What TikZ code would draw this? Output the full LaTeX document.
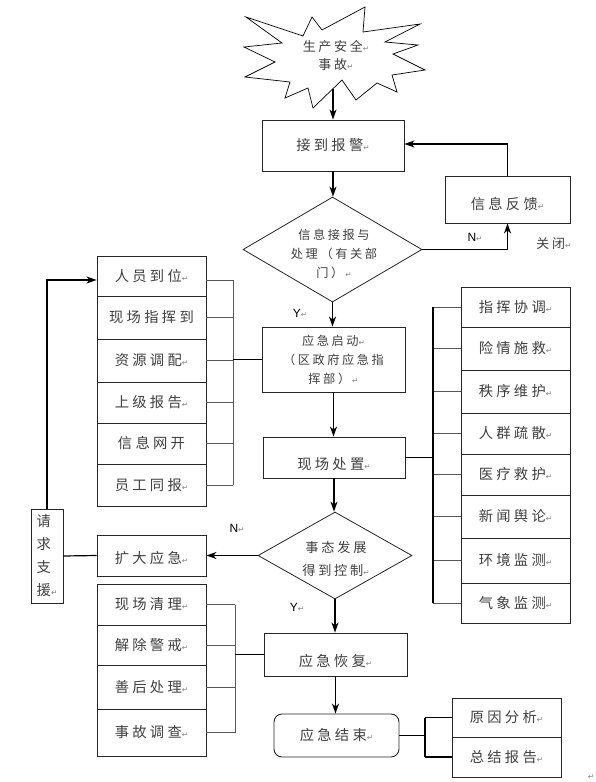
\documentclass[tikz,border=0pt]{standalone}
\usepackage{fontspec}
\usetikzlibrary{shapes.geometric,arrows.meta}
\newfontfamily\cjk[LetterSpace=23]{Noto Sans CJK SC}
\newfontfamily\cjks[LetterSpace=21]{Noto Sans CJK SC}
\newfontfamily\symf{DejaVu Sans}
\newfontfamily\lat{Liberation Sans}
\newcommand\rt{{\symf\fontsize{7.5}{8}\selectfont\textcolor{black!50}{↵}}}
\newcommand\bigtxt{\cjk\fontsize{14.3}{18}\selectfont}
\newcommand\smalltxt{\cjks\fontsize{12.2}{19}\selectfont}
\newcommand\midtxt{\cjks\fontsize{13.2}{23}\selectfont}
\newcommand\startxt{\cjks\fontsize{13}{18}\selectfont}
\newcommand\reqtxt{\cjk\fontsize{14.3}{23}\selectfont}
\newcommand\labtxt{\lat\fontsize{12}{12}\selectfont}
\begin{document}
\begin{tikzpicture}[x=1pt,y=-1pt,
  box/.style={draw=black!85, line width=0.9pt, inner sep=0pt, text=black!75, align=center, font=\bigtxt},
  dia/.style={draw=black!85, line width=0.8pt, diamond, inner sep=0pt},
  txt/.style={inner sep=0pt, text=black!75, align=center, font=\bigtxt},
  lab/.style={inner sep=0pt, text=black, font=\labtxt},
  arr/.style={draw=black, line width=1.2pt, -{Stealth[length=10pt,width=7pt,inset=3pt]}},
  main/.style={draw=black, line width=1.2pt},
  br/.style={draw=black!65, line width=1pt},
  sbox/.style={box, minimum width=109}
]
\useasboundingbox[fill=white] (0,0) rectangle (596,782);

% star
\draw[line width=0.7pt, draw=black] (246,17) -- (303,36) -- (312,17) -- (322,30) -- (365,7) -- (363,32) -- (420,24) -- (385,42) -- (418,45) -- (393,54) -- (425,70) -- (392,75) -- (397,92) -- (377,83) -- (356,100) -- (342,80) -- (313,108) -- (308,88) -- (285,98) -- (290,82) -- (245,77) -- (275,62) -- (244,47) -- (282,43) -- cycle;
\node[txt, font=\startxt] (star) at (336,56) {生产安全\rt\\事故\rt};
\coordinate (starbot) at (333,89);

% main chain
\node[box, minimum width=142, minimum height=51] (alarm) at (333,145.5) {接到报警\rt};
\node[box, minimum width=125, minimum height=47, label={[txt,yshift=-5pt]center:信息反馈\rt}] (feedback) at (507.5,199.5) {};
\node[dia, minimum width=179, minimum height=105] (d1) at (332.5,249.5) {};
\node[txt, font=\smalltxt] (d1t) at (334,254) {信息接报与\\处理（有关部\\门）\,\rt};
\node[box, minimum width=143, minimum height=65, font=\smalltxt] (start) at (333.5,359.5) {应急启动\rt\\（区政府应急指\\挥部）\,\rt};
\node[box, minimum width=142, minimum height=41, label={[txt,yshift=-7pt]center:现场处置\rt}] (scene) at (334,457.5) {};
\node[dia, minimum width=154, minimum height=87] (d2) at (335,555.5) {};
\node[txt, font=\midtxt] (d2t) at (336,558.5) {事态发展\\得到控制\rt};
\node[box, minimum width=109, minimum height=41, label={[txt,yshift=-3pt]center:扩大应急\rt}] (expand) at (151.5,555.5) {};
\node[box, minimum width=32, minimum height=94, align=left, font=\reqtxt] (request) at (47,556) {请\\求\\支\\援\rt};
\node[box, minimum width=143, minimum height=43, label={[txt,yshift=-7pt]center:应急恢复\rt}] (recover) at (335.5,654.5) {};
\node[box, rounded corners=8pt, minimum width=125, minimum height=43] (fin) at (336.5,735.5) {应急结束\rt};

% left top stack
\node[sbox, minimum height=40] (p1) at (151.5,276) {人员到位\rt};
\node[sbox, minimum height=43] (p2) at (151.5,317.5) {现场指挥到};
\node[sbox, minimum height=43] (p3) at (151.5,360.5) {资源调配\rt};
\node[sbox, minimum height=41] (p4) at (151.5,402.5) {上级报告\rt};
\node[sbox, minimum height=41] (p5) at (151.5,443.5) {信息网开};
\node[sbox, minimum height=42] (p6) at (151.5,485) {员工同报\rt};

% right stack
\node[sbox, minimum height=40] (r1) at (515.5,307) {指挥协调\rt};
\node[sbox, minimum height=43] (r2) at (515.5,348.5) {险情施救\rt};
\node[sbox, minimum height=43] (r3) at (515.5,391.5) {秩序维护\rt};
\node[sbox, minimum height=41] (r4) at (515.5,433.5) {人群疏散\rt};
\node[sbox, minimum height=41] (r5) at (515.5,474.5) {医疗救护\rt};
\node[sbox, minimum height=43] (r6) at (515.5,516.5) {新闻舆论\rt};
\node[sbox, minimum height=45] (r7) at (515.5,560.5) {环境监测\rt};
\node[sbox, minimum height=40] (r8) at (515.5,603) {气象监测\rt};

% bottom left stack
\node[sbox, minimum height=41] (q1) at (151.5,604.5) {现场清理\rt};
\node[sbox, minimum height=40] (q2) at (151.5,645) {解除警戒\rt};
\node[sbox, minimum height=44] (q3) at (151.5,687) {善后处理\rt};
\node[sbox, minimum height=47] (q4) at (151.5,732.5) {事故调查\rt};

% bottom right stack
\node[sbox, minimum height=39] (s1) at (506.5,717.5) {原因分析\rt};
\node[sbox, minimum height=40] (s2) at (506.5,757) {总结报告\rt};

% bracket coordinates
\coordinate (lb) at (233,0);
\coordinate (rb) at (433,0);
\coordinate (qb) at (235,0);
\coordinate (sb) at (425,0);
\coordinate (p1c) at ([yshift=-4pt]p1.east);
\coordinate (p1w) at ([yshift=-4pt]p1.west);

% left top bracket
\foreach \n in {p2,p3,p4,p5,p6} \draw[br] (\n.east) -- (\n.east -| lb);
\draw[br] (p1c) -- (p1c -| lb);
\draw[br] (p1c -| lb) -- (p6.east -| lb);
\draw[main] (start.west) -- (start.west -| lb);

% right bracket
\foreach \n in {r1,r2,r3,r4,r5,r6,r7,r8} \draw[br] (\n.west) -- (\n.west -| rb);
\draw[main] (r1.west -| rb) -- (r8.west -| rb);
\draw[main] (scene.east) -- (scene.east -| rb);

% bottom left bracket
\foreach \n in {q1,q2,q3,q4} \draw[br] (\n.east) -- (\n.east -| qb);
\draw[br] (q1.east -| qb) -- (q4.east -| qb);
\draw[main] (recover.west) -- (recover.west -| qb);

% bottom right bracket
\foreach \n in {s1,s2} \draw[main] (\n.west) -- (\n.west -| sb);
\draw[main] (s1.west -| sb) -- (s2.west -| sb);
\draw[main] (fin.east) -- (fin.east -| sb);

% arrows
\draw[arr] (starbot) -- (starbot |- alarm.north);
\draw[arr] (alarm.south) -- (alarm.south |- d1.north);
\draw[arr] (d1.east) -| (feedback.south);
\draw[arr] (feedback.north) |- ([yshift=1.5pt]alarm.east);
\draw[arr] (d1.south) -- (d1.south |- start.north);
\draw[arr] (start.south) -- (start.south |- scene.north);
\draw[arr] (scene.south) -- (scene.south |- d2.north);
\draw[arr] (d2.west) -- (expand.east);
\draw[main] (expand.west) -- (request.east);
\draw[arr] (request.north) |- (p1w);
\draw[arr] (d2.south) -- (d2.south |- recover.north);
\draw[arr] (recover.south) -- (recover.south |- fin.north);

% labels
\node[lab] (n1) at (475,237) {N\rt};
\node[txt, font=\startxt] (close) at (554,244) {关闭\rt};
\node[lab] (y1) at (300,313) {Y\rt};
\node[lab] (n2) at (237,528) {N\rt};
\node[lab] (y2) at (297,607) {Y\rt};
\node[txt] (stray) at (591,777) {\rt};
\end{tikzpicture}
\end{document}
